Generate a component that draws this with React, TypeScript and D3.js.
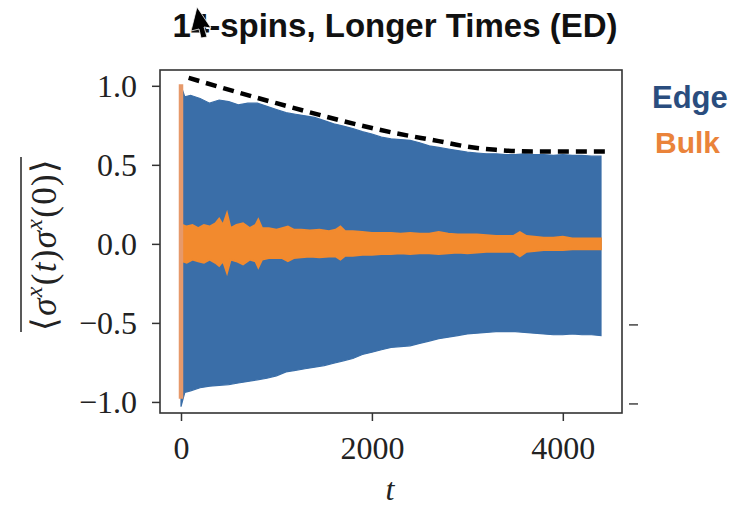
import { useEffect, useRef } from "react";
import * as d3 from "d3";

// Edge (blue) envelope of the fast oscillation
const edgeT = [0, 40, 100, 200, 300, 400, 500, 600, 700, 800, 900, 1000, 1100, 1200, 1300, 1400, 1500, 1600, 1700, 1800, 1900, 2000, 2100, 2200, 2300, 2400, 2500, 2600, 2700, 2800, 2900, 3000, 3100, 3200, 3300, 3400, 3500, 3600, 3700, 3800, 3900, 4000, 4100, 4200, 4300, 4400];
const edgeHigh = [1.0, 0.93, 0.94, 0.92, 0.89, 0.91, 0.9, 0.88, 0.89, 0.89, 0.87, 0.85, 0.83, 0.82, 0.81, 0.8, 0.78, 0.76, 0.745, 0.73, 0.71, 0.695, 0.675, 0.665, 0.66, 0.655, 0.64, 0.62, 0.61, 0.6, 0.59, 0.58, 0.575, 0.57, 0.57, 0.565, 0.565, 0.57, 0.565, 0.565, 0.56, 0.565, 0.56, 0.56, 0.555, 0.555];
const edgeLow = [-1.03, -0.94, -0.93, -0.91, -0.9, -0.895, -0.89, -0.88, -0.87, -0.86, -0.85, -0.835, -0.81, -0.8, -0.79, -0.78, -0.77, -0.755, -0.74, -0.725, -0.7, -0.685, -0.67, -0.655, -0.65, -0.645, -0.63, -0.615, -0.6, -0.59, -0.58, -0.57, -0.565, -0.56, -0.555, -0.555, -0.555, -0.56, -0.565, -0.57, -0.575, -0.575, -0.57, -0.575, -0.575, -0.58];

// Bulk (orange) envelope
const bulkT = [15, 60, 120, 180, 240, 300, 360, 400, 440, 482, 520, 580, 650, 720, 780, 810, 850, 920, 1000, 1060, 1120, 1180, 1260, 1350, 1450, 1550, 1620, 1670, 1720, 1800, 1900, 2000, 2100, 2200, 2300, 2400, 2500, 2600, 2700, 2800, 2900, 3000, 3100, 3200, 3300, 3400, 3480, 3550, 3620, 3700, 3800, 3900, 4000, 4100, 4200, 4300, 4400];
const bulkHigh = [0.12, 0.11, 0.12, 0.1, 0.12, 0.11, 0.13, 0.16, 0.12, 0.195, 0.1, 0.12, 0.13, 0.1, 0.12, 0.155, 0.1, 0.1, 0.09, 0.1, 0.11, 0.09, 0.09, 0.085, 0.09, 0.08, 0.09, 0.11, 0.08, 0.08, 0.075, 0.07, 0.07, 0.07, 0.065, 0.07, 0.065, 0.065, 0.075, 0.065, 0.06, 0.06, 0.06, 0.055, 0.05, 0.05, 0.05, 0.075, 0.05, 0.045, 0.04, 0.04, 0.045, 0.035, 0.035, 0.035, 0.035];
const bulkLow = [-0.11, -0.12, -0.1, -0.11, -0.12, -0.1, -0.12, -0.14, -0.11, -0.185, -0.1, -0.11, -0.13, -0.1, -0.11, -0.15, -0.1, -0.09, -0.09, -0.09, -0.11, -0.09, -0.085, -0.08, -0.085, -0.08, -0.08, -0.1, -0.075, -0.075, -0.07, -0.07, -0.065, -0.065, -0.06, -0.065, -0.06, -0.06, -0.065, -0.06, -0.055, -0.06, -0.055, -0.05, -0.05, -0.05, -0.05, -0.08, -0.05, -0.045, -0.04, -0.04, -0.04, -0.035, -0.035, -0.035, -0.035];
const bulkSpike = [1.01, -0.98];

// dashed guide over the edge envelope
const guideT = [80, 1000, 2250, 2700, 3000, 3300, 3700, 4480];
const guideV = [1.05, 0.89, 0.7, 0.65, 0.615, 0.595, 0.585, 0.585];

const xTicks = [0, 2000, 4000];
const yTicks = [-1.0, -0.5, 0.0, 0.5, 1.0];
const legendNames = ["Edge", "Bulk"];

const W = 738, H = 506;
const BLUE = "#3a6ea8";
const ORANGE = "#f28a2e";

const App = () => {
  const ref = useRef<SVGSVGElement>(null);

  useEffect(() => {
    const svg = d3.select(ref.current);
    svg.selectAll("*").remove();

    const x = d3.scaleLinear().domain([-220, 4620]).range([160, 622]);
    const y = d3.scaleLinear().domain([-1.07, 1.1]).range([413, 70]);

    const edge = edgeT.map((t, i) => ({ t, hi: edgeHigh[i], lo: edgeLow[i] }));
    const bulk = bulkT.map((t, i) => ({ t, hi: bulkHigh[i], lo: bulkLow[i] }));

    const area = d3.area<any>()
      .x(d => x(d.t))
      .y0(d => y(d.lo))
      .y1(d => y(d.hi));

    svg.append("path").datum(edge)
      .attr("d", area)
      .attr("fill", BLUE).attr("stroke", BLUE).attr("stroke-width", 1.2);

    svg.append("path").datum(bulk)
      .attr("d", area)
      .attr("fill", ORANGE).attr("stroke", ORANGE).attr("stroke-width", 1.8);

    svg.append("line")
      .attr("x1", x(0)).attr("x2", x(0))
      .attr("y1", y(bulkSpike[0])).attr("y2", y(bulkSpike[1]))
      .attr("stroke", "#e6996a").attr("stroke-width", 4.5);

    const guide = guideT.map((t, i) => ({ t, v: guideV[i] }));
    svg.append("path").datum(guide)
      .attr("d", d3.line<any>().x(d => x(d.t)).y(d => y(d.v)).curve(d3.curveMonotoneX))
      .attr("fill", "none").attr("stroke", "#000")
      .attr("stroke-width", 4.5).attr("stroke-dasharray", "11,7");

    // frame
    svg.append("rect")
      .attr("x", 160).attr("y", 70).attr("width", 462).attr("height", 343)
      .attr("fill", "none").attr("stroke", "#333").attr("stroke-width", 1.6);

    const yAxis = svg.append("g").attr("transform", "translate(160,0)")
      .call(d3.axisLeft(y).tickValues(yTicks).tickSize(8).tickPadding(15).tickFormat(d3.format(".1f")));
    const xAxis = svg.append("g").attr("transform", "translate(0,413)")
      .call(d3.axisBottom(x).tickValues(xTicks).tickSize(8).tickPadding(15).tickFormat(d3.format("d")));
    [yAxis, xAxis].forEach(g => {
      g.select(".domain").remove();
      g.selectAll("line").attr("stroke", "#333").attr("stroke-width", 1.5);
      g.selectAll("text")
        .attr("font-family", "'Liberation Serif', serif")
        .attr("font-size", 32).attr("fill", "#222");
    });

    // stray minus signs of the neighbouring panel
    [-0.5, -1.0].forEach(v => {
      svg.append("line")
        .attr("x1", 629).attr("x2", 638)
        .attr("y1", y(v) + 2).attr("y2", y(v) + 2)
        .attr("stroke", "#444").attr("stroke-width", 1.5);
    });
  }, []);

  return (
    <div style={{ position: "absolute", left: 0, top: 0 }}>
      <svg ref={ref} width={W} height={H} style={{ display: "block", background: "#fff" }} />
      <svg width={W} height={H} style={{ position: "absolute", left: 0, top: 0 }}>
        <text x={395} y={37} textAnchor="middle" fontFamily="'Liberation Sans', Arial, sans-serif"
          fontWeight="bold" fontSize={33} fill="#111">14-spins, Longer Times (ED)</text>
        <path d="M197,7 L211,28 L204,27 L207,37 L201,38 L199,29 L191,31 Z" fill="#000" stroke="#fff" strokeWidth={0.8} />
        <text x={652} y={108} fontFamily="'Liberation Sans', Arial, sans-serif" fontWeight="bold"
          fontSize={31} fill="#2a4d7e">{legendNames[0]}</text>
        <text x={655} y={153} fontFamily="'Liberation Sans', Arial, sans-serif" fontWeight="bold"
          fontSize={30} fill="#ea833a">{legendNames[1]}</text>
        <text transform="translate(56,245) rotate(-90)" textAnchor="middle" textLength={172} lengthAdjust="spacing"
          fontFamily="'Liberation Serif', serif" fontSize={35} fill="#222">
          ⟨<tspan fontStyle="italic">σ</tspan><tspan fontSize={24} dy={-14} fontStyle="italic">x</tspan><tspan dy={14}>(</tspan><tspan fontStyle="italic">t</tspan>)<tspan fontStyle="italic">σ</tspan><tspan fontSize={24} dy={-14} fontStyle="italic">x</tspan><tspan dy={14}>(0)⟩</tspan>
        </text>
        <line x1={21} x2={21} y1={157} y2={332} stroke="#222" strokeWidth={1.5} />
        <text x={390} y={500} textAnchor="middle" fontFamily="'Liberation Serif', serif"
          fontStyle="italic" fontSize={32} fill="#222">t</text>
      </svg>
    </div>
  );
};

export default App;
